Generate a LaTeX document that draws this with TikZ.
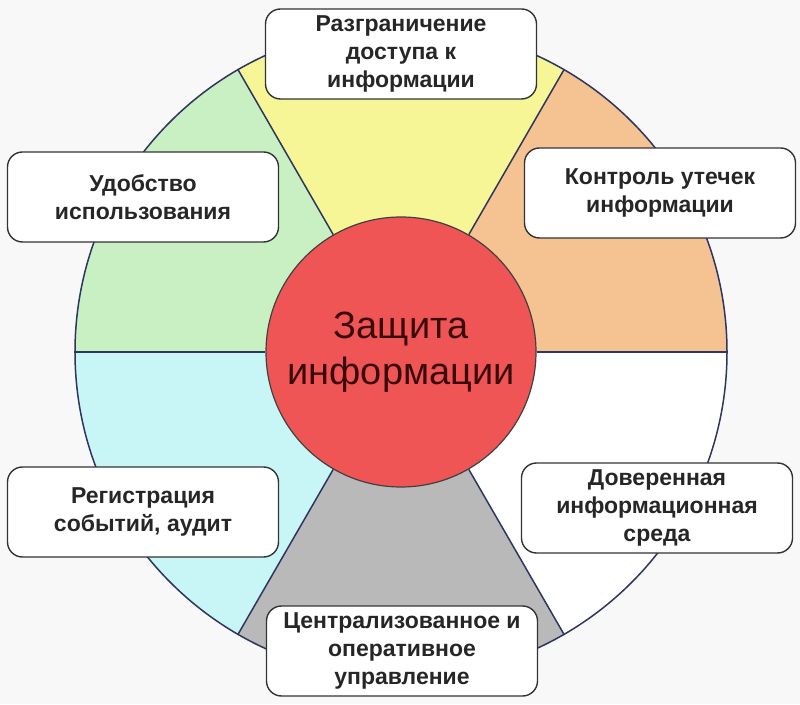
\documentclass[tikz,border=0pt]{standalone}
\usepackage{fontspec}
\setmainfont{Liberation Sans}
\usepackage{tikz}
\usetikzlibrary{positioning}

\definecolor{bggray}{HTML}{F8F8F8}
\definecolor{secyellow}{HTML}{F6F696}
\definecolor{secorange}{HTML}{F5C391}
\definecolor{secgreen}{HTML}{C8F0C3}
\definecolor{seccyan}{HTML}{C8F5F5}
\definecolor{secgray}{HTML}{B9B9B9}
\definecolor{hubred}{HTML}{F05555}
\definecolor{hubtext}{HTML}{3A0A0A}
\definecolor{rimblue}{HTML}{2E3560}

\begin{document}
\begin{tikzpicture}[
  x=1pt, y=1pt,
  font=\fontsize{23}{27.6}\selectfont\bfseries,
  item/.style={draw=black!80, line width=1.4pt, rounded corners=15pt,
    fill=white, minimum width=271pt, minimum height=90pt, inner sep=0pt,
    align=center, text=black!85},
  hub/.style={circle, draw=black!75, line width=1.2pt, fill=hubred,
    minimum size=270pt, inner sep=0pt, align=center, text=hubtext,
    font=\fontsize{38}{46}\selectfont\mdseries},
  spoke/.style={draw=rimblue, line width=1.5pt},
]
  \useasboundingbox[fill=bggray] (0,0) rectangle (800,704);
  \coordinate (o) at (401,352);

  \foreach \a/\col in {0/secorange, 60/secyellow, 120/secgreen,
                       180/seccyan, 240/secgray, 300/white}
    \fill[\col] (o) -- ++(\a:326) arc[start angle=\a, end angle=\a+60, radius=326] -- cycle;

  \node[circle, spoke, minimum size=652pt, inner sep=0pt] (rim) at (o) {};
  \node[hub] (core) at (o) {Защита\\информации};
  \foreach \a in {0,60,...,300}
    \draw[spoke] (core.\a) -- (rim.\a);

  \node[item] (access)  at (401,650) {Разграничение\\доступа к\\информации};
  \node[item] (usab)    at (143,507) {Удобство\\использования};
  \node[item] (leak)    at (660,511) {Контроль утечек\\информации};
  \node[item] (audit)   at (143,192) {Регистрация\\событий, аудит};
  \node[item] (trust)   at (657,196) {Доверенная\\информационная\\среда};
  \node[item] (central) at (402,53)  {Централизованное и\\оперативное\\управление};
\end{tikzpicture}
\end{document}
